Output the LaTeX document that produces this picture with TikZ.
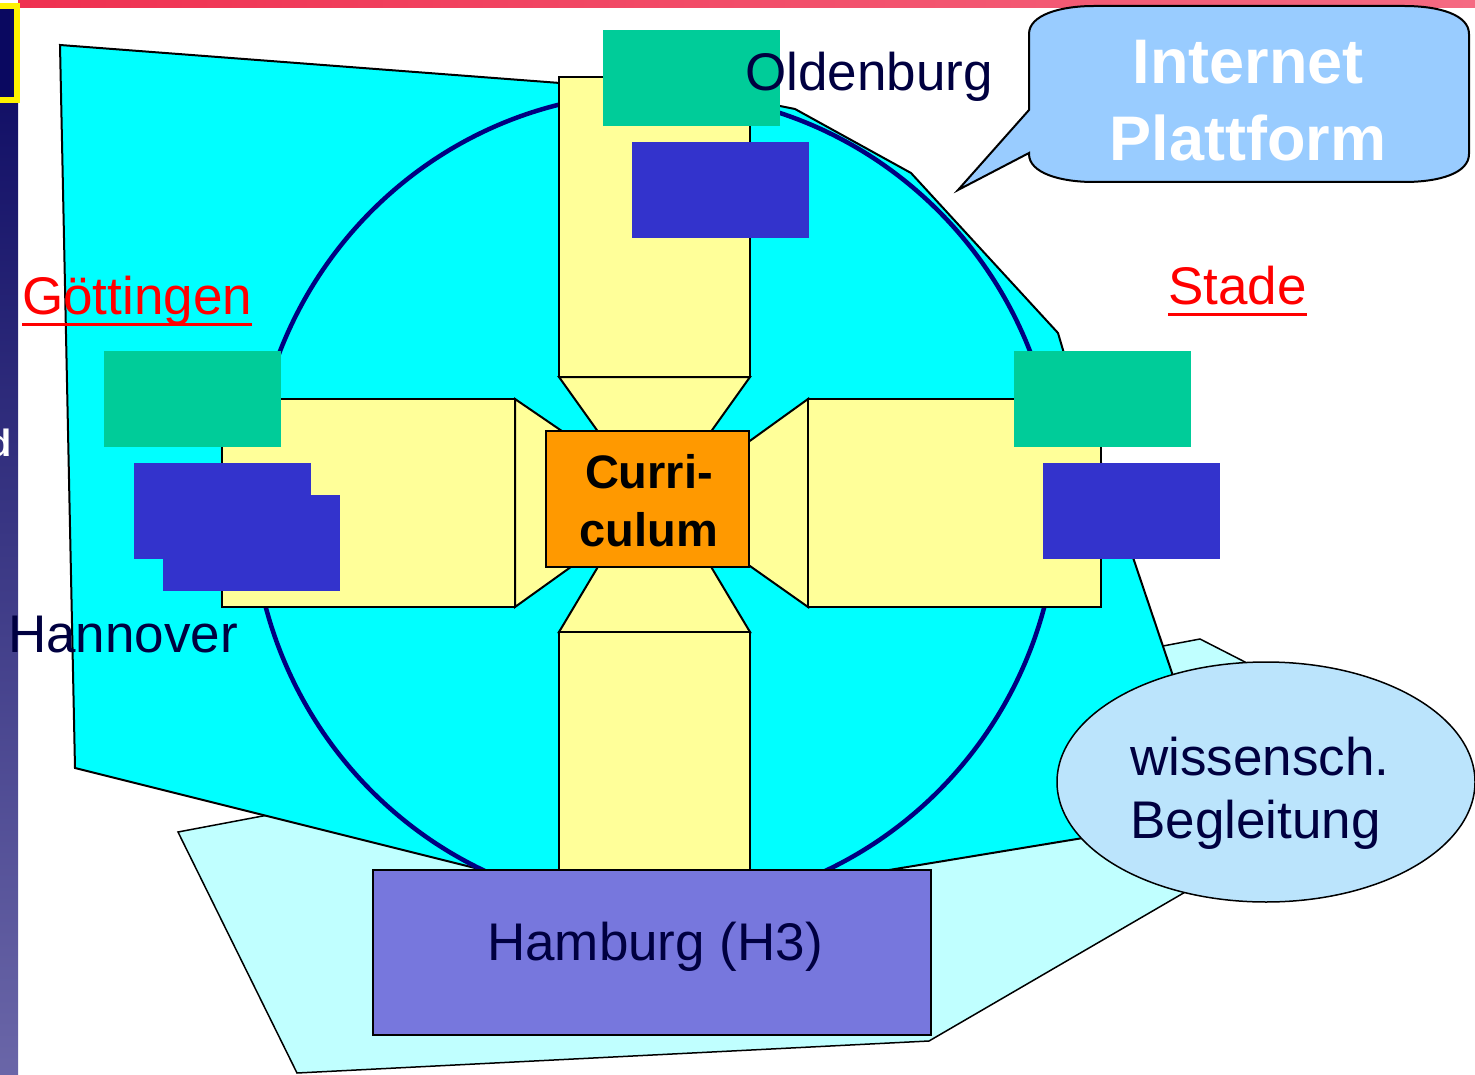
\documentclass[tikz,border=0pt]{standalone}
\usepackage{fontspec}
\setmainfont{Liberation Sans}
\definecolor{barred}{RGB}{239,48,80}
\definecolor{barpink}{RGB}{245,106,130}
\definecolor{stripnavy}{RGB}{10,8,96}
\definecolor{striplila}{RGB}{106,102,168}
\definecolor{palecyan}{RGB}{192,255,255}
\definecolor{areacyan}{RGB}{0,255,255}
\definecolor{ringnavy}{RGB}{0,0,128}
\definecolor{armyellow}{RGB}{255,255,153}
\definecolor{curriorange}{RGB}{255,153,0}
\definecolor{tilegreen}{RGB}{0,204,153}
\definecolor{tileblue}{RGB}{51,51,204}
\definecolor{hhlila}{RGB}{119,119,221}
\definecolor{ellblue}{RGB}{187,228,252}
\definecolor{callblue}{RGB}{153,204,255}
\definecolor{textnavy}{RGB}{0,0,64}
\def\tile[#1](#2,#3){\fill[#1] (#2,#3) rectangle ++(177,96);}
\tikzset{
	arm/.style={draw=black, line width=2pt, fill=armyellow},
	city/.style={inner sep=0pt, anchor=base west, text=textnavy, font=\fontsize{53}{63}\selectfont},
	uline/.style={red, line width=3pt}
}

\begin{document}
\begin{tikzpicture}[x=1pt, y=-1pt]
			%%%%% START %%%%%
			\useasboundingbox (0,0) rectangle (1475,1075);
			
			\shade[left color=barred, right color=barpink] (18,0) rectangle (1475,8);
			\shade[top color=stripnavy, bottom color=striplila] (0,4) rectangle (18,1075);
			\draw[draw=yellow, line width=6pt, fill=stripnavy] (-4,6) rectangle (17,100);
			\node[inner sep=0pt, anchor=base east, text=white, font=\bfseries\fontsize{38}{42}\selectfont] (dfrag) at (12,456) {d};
			
			\draw[fill=palecyan, line width=1.5pt] (178,832) -- (1200,639) -- (1290,685) -- (1230,866) -- (929,1041) -- (297,1073) -- cycle;
			\draw[fill=areacyan, line width=2pt] (60,45) -- (560,83) -- (780,106) -- (795,109) -- (911,173) -- (1058,333) -- (1063,350) -- (1172,673) -- (1195,740) -- (1150,827) -- (1083,838) -- (877,872) -- (660,900) -- (491,872) -- (75,768) -- cycle;
			
			\draw[ringnavy, line width=4.5pt] (655,501) ellipse [x radius=403pt, y radius=408pt];
			
			\draw[arm] (559,377) -- (604,440) -- (705,440) -- (750,377) -- cycle;
			\draw[arm] (515,399) -- (575,440) -- (575,564) -- (515,607) -- cycle;
			\draw[arm] (808,399) -- (740,448) -- (740,559) -- (808,607) -- cycle;
			\draw[arm] (559,632) -- (602,560) -- (707,560) -- (750,632) -- cycle;
			\draw[arm] (559,77) rectangle (750,377);
			\draw[arm] (222,399) rectangle (515,607);
			\draw[arm] (808,399) rectangle (1101,607);
			\draw[arm] (559,632) rectangle (750,880);
			
			\draw[fill=curriorange, line width=2pt] (546,431) rectangle (749,567);
			\node[inner sep=0pt, anchor=north, align=center, font=\bfseries\fontsize{47}{58}\selectfont] (curri) at (649,454) {Curri-\\culum};
			
			\tile[tilegreen](603,30)
			\tile[tileblue](632,142)
			\tile[tilegreen](104,351)
			\tile[tileblue](134,463)
			\tile[tileblue](163,495)
			\tile[tilegreen](1014,351)
			\tile[tileblue](1043,463)
			
			\draw[fill=hhlila, line width=1.5pt] (373,870) rectangle (931,1035);
			\node[city, anchor=base] (hamburg) at (655,960) {Hamburg (H3)};
			
			\draw[fill=ellblue, line width=1.5pt] (1266,782) ellipse [x radius=209pt, y radius=120pt];
			\node[city, anchor=north west, align=left] (wiss) at (1130,737) {wissensch.\\Begleitung};
			
			\draw[fill=callblue, line width=2pt] (1029,110) -- (1029,34) .. controls (1029,15) and (1060,6) .. (1094,6) -- (1404,6) .. controls (1440,6) and (1469,15) .. (1469,34) -- (1469,154) .. controls (1469,173) and (1440,182) .. (1404,182) -- (1094,182) .. controls (1060,182) and (1029,173) .. (1029,154) -- (1029,153) -- (958,190) -- cycle;
			\node[inner sep=0pt, anchor=north, align=center, text=white, font=\bfseries\fontsize{63}{77}\selectfont] (internet) at (1248,40) {Internet\\Plattform};
			
			\node[city] (oldenburg) at (745,91) {Oldenburg};
			\node[city] (hannover) at (8,652) {Hannover};
			\node[city, text=red] (goettingen) at (22,315) {Göttingen};
			\node[city, text=red] (stade) at (1168,305) {Stade};
			\draw[uline] ([yshift=-9pt]goettingen.base west) -- ([yshift=-9pt]goettingen.base east);
			\draw[uline] ([yshift=-10pt]stade.base west) -- ([yshift=-10pt]stade.base east);
			%%%%% END %%%%%
\end{tikzpicture}
\end{document}
